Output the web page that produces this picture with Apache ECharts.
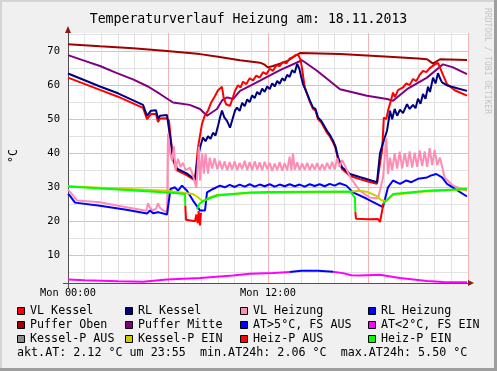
<!DOCTYPE html>
<html><head><meta charset="utf-8">
<script src="https://cdn.jsdelivr.net/npm/echarts@6/dist/echarts.min.js"></script>
<style>html,body{margin:0;padding:0;background:#f0f0f0}#c{width:497px;height:371px}</style>
</head><body><div id="c"></div>
<script>
const TITLE = 'Temperaturverlauf Heizung am: 18.11.2013';
const Y_UNIT = '°C';
const WATERMARK = 'RRDTOOL / TOBI OETIKER';
const xTickLabels = {0: 'Mon 00:00', 12: 'Mon 12:00'};
const yLabelValues = [10, 20, 30, 40, 50, 60, 70];
const yGridValues = [5, 10, 15, 20, 25, 30, 35, 40, 45, 50, 55, 60, 65, 70, 75];

// [hour of day, °C]
const pufferOben = [[0,72.0],[1.92,71.4],[3.9,70.8],[5.94,70.0],[7.92,69.1],[9,68.3],[10.32,67.3],[11.52,66.6],[11.8,66],[12,65.2],[12.3,65.6],[12.9,66.6],[13.2,67.2],[13.62,68.6],[13.92,69.4],[16.32,69.1],[19,68.4],[21.0,67.8],[21.54,67.6],[21.9,66.3],[22.32,67.6],[23.94,67.4]];
const pufferMitte = [[0,68.8],[0.96,67.2],[1.92,65.6],[2.9,63.6],[3.9,61.7],[4.8,59.6],[5.52,57.4],[6.3,54.9],[7.3,54.2],[7.92,53.0],[8.34,51.0],[8.94,53.0],[9.24,55.5],[9.54,56.4],[9.9,55.9],[10.32,58.3],[10.92,59.8],[11.52,61.3],[12.72,64.4],[14.04,67.3],[14.94,64.2],[16.32,58.8],[17.94,56.9],[19.14,55.9],[19.5,55.4],[20.34,58.8],[21.54,62.2],[22.5,66.1],[23.1,65.2],[23.94,63.2]];
const vlKessel = [[0,62.2],[1.92,58.6],[3.0,56.6],[4.5,53.3],[4.6,53],[4.74,50],[4.98,51.5],[5.28,51.5],[5.4,49.2],[5.52,50.2],[5.94,50.3],[6.06,49.5],[6.3,38],[6.54,35],[7.14,33.5],[7.62,32],[7.8,41.7],[8.04,48.6],[8.2,51],[8.4,52.5],[8.6,55],[8.82,56.8],[9.0,58.5],[9.24,59.5],[9.35,56],[9.5,54.3],[9.72,53.9],[9.9,56.5],[10.02,58.3],[10.2,60],[10.35,59.3],[10.5,61],[10.7,60.3],[10.9,62],[11.1,61.4],[11.3,62.8],[11.5,62.2],[11.7,63.8],[11.9,63.2],[12.1,64.8],[12.3,64.2],[12.5,65.8],[12.7,65.6],[12.9,66.8],[13.1,66.4],[13.3,67.8],[13.5,68.2],[13.65,68.8],[13.8,69],[13.95,67.5],[14.04,65],[14.2,59.5],[14.52,55],[14.7,53],[14.85,52.5],[15.0,50],[15.2,49],[15.54,46],[15.7,45],[15.9,43.2],[16.05,41.5],[16.2,38.3],[16.44,35.4],[16.6,34.7],[16.92,33.3],[17.5,32.4],[18.0,31.7],[18.54,31],[18.62,30.5],[18.75,38],[18.85,41],[18.95,50.5],[19.1,50],[19.2,52.5],[19.35,55],[19.5,57.8],[19.62,56.5],[19.8,58.5],[20.1,59.3],[20.3,60.5],[20.5,60],[20.7,61.8],[20.9,61.2],[21.1,63],[21.3,64.2],[21.5,63.8],[21.7,65],[22.02,66.1],[22.2,66.5],[22.32,66.1],[22.5,63],[22.74,60.3],[23.2,58.5],[23.94,56.9]];
const rlKessel = [[0,63.4],[1.92,59.6],[3.0,57.6],[4.5,54.2],[4.6,53.9],[4.74,51],[4.98,52.5],[5.28,52.6],[5.4,50.1],[5.52,51],[5.94,51.2],[6.06,51.5],[6.3,38.8],[6.54,35.5],[7.14,34],[7.62,32.3],[7.74,37],[7.92,41.7],[8.1,44.6],[8.25,43.5],[8.4,45],[8.55,44.2],[8.7,46],[8.85,45.2],[9.0,48],[9.12,50.5],[9.24,52.5],[9.38,50.5],[9.54,49.5],[9.72,47.5],[9.9,50.5],[10.02,52.5],[10.14,53.4],[10.3,52.4],[10.45,54.8],[10.6,53.8],[10.75,55.8],[10.9,55],[11.05,57],[11.2,56.2],[11.35,58],[11.5,57.2],[11.65,59],[11.8,58],[11.95,59.6],[12.1,58.8],[12.25,60.5],[12.4,59.6],[12.55,61.2],[12.7,60.4],[12.85,62],[13.0,61.3],[13.15,63],[13.3,62.4],[13.45,64.4],[13.6,63.6],[13.75,66.2],[13.88,64.8],[14.0,62.2],[14.1,60.3],[14.3,58],[14.52,55.4],[14.7,53.4],[14.85,53],[15.0,50.5],[15.2,49.5],[15.54,46.6],[15.7,45.5],[15.9,43.7],[16.05,42],[16.2,38.8],[16.44,35.9],[16.6,35.2],[16.92,33.9],[17.5,33],[18.0,32.3],[18.54,31.5],[18.62,31.2],[18.72,40],[18.9,43],[19.14,46.6],[19.25,50],[19.32,52.5],[19.45,50],[19.6,53],[19.75,51],[19.92,52.8],[20.1,51.8],[20.34,54.4],[20.5,53],[20.7,54.2],[20.85,53.2],[21.0,56],[21.15,54.5],[21.3,57.4],[21.45,56],[21.6,59.5],[21.72,58],[21.9,62.2],[22.05,60.5],[22.2,63.5],[22.32,62],[22.44,60.8],[22.8,59.8],[23.4,59],[23.94,58.3]];
const vlHeizung = [[0,29.3],[0.24,28],[0.54,26.1],[1.92,25.6],[3.0,24.6],[4.7,23.1],[4.8,25.3],[4.92,24],[5.1,23.2],[5.3,23.8],[5.4,25.3],[5.52,24],[5.7,23.2],[5.94,22.7],[6.0,45.7],[6.12,40],[6.25,37.8],[6.35,42],[6.45,34.9],[6.6,38.4],[6.75,36],[6.9,37.2],[7.05,35],[7.32,35.8],[7.5,33.4],[7.7,29.9],[7.85,42],[7.92,32],[8.05,40],[8.15,34],[8.25,39.8],[8.4,34],[8.5,38.7],[8.65,35.5],[8.8,38.5],[8.95,35.3],[9.1,37.8],[9.25,35.2],[9.4,37.6],[9.55,35],[9.7,37.4],[9.85,35.2],[10.0,37.6],[10.15,35],[10.3,37.2],[10.45,35.3],[10.6,37.8],[10.75,35.1],[10.9,37.4],[11.05,35],[11.2,37.6],[11.35,35.2],[11.5,37.3],[11.65,35],[11.8,37.5],[11.95,35.3],[12.1,37.2],[12.25,34.8],[12.4,37],[12.55,35],[12.7,37.4],[12.85,34.9],[13.0,37.1],[13.15,35],[13.3,39],[13.4,35],[13.5,40],[13.6,35.2],[13.75,37.3],[13.9,35],[14.05,37],[14.2,35.1],[14.35,37.2],[14.5,35],[14.65,36.9],[14.8,35.2],[14.95,37.1],[15.1,35],[15.25,36.8],[15.4,35.1],[15.55,37.2],[15.7,35.3],[15.85,37.5],[16.0,35.2],[16.15,38.5],[16.3,36],[16.45,38],[16.6,36.5],[16.95,32.8],[17.5,29],[18.1,27],[18.6,26.7],[18.9,32.8],[19.1,44.5],[19.2,33.9],[19.32,38.7],[19.45,35],[19.6,40],[19.75,35.5],[19.9,40.5],[20.05,35.5],[20.2,40],[20.35,36],[20.5,40.5],[20.65,35.8],[20.8,40.2],[20.95,36],[21.1,40.8],[21.25,36.2],[21.4,40.5],[21.55,36],[21.7,41.5],[21.85,36.5],[22.0,41],[22.15,36.5],[22.32,38.7],[22.6,32.8],[23.1,30.5],[23.94,29]];
const rlHeizung = [[0,28.1],[0.12,27.5],[0.24,27],[0.42,25.5],[1.92,24.6],[3.5,23.4],[4.74,22.3],[4.92,23.2],[5.1,22.4],[5.4,22.7],[5.94,22],[6.15,29.5],[6.42,30],[6.6,29],[6.84,30.5],[7.14,29],[7.5,26.1],[7.92,23.2],[8.22,23.2],[8.34,28.5],[8.7,29.5],[9.12,30.5],[9.4,30],[9.7,30.7],[10.0,30.1],[10.3,30.8],[10.6,30.2],[10.9,30.9],[11.2,30.2],[11.5,30.8],[11.8,30.3],[12.1,30.9],[12.4,30.2],[12.7,30.8],[13.0,30.3],[13.3,30.9],[13.6,30.3],[13.9,30.8],[14.2,30.2],[14.5,30.9],[14.8,30.4],[15.1,30.9],[15.4,30.3],[15.7,31],[16.0,30.5],[16.3,31.2],[16.7,30.5],[17.1,28.5],[17.9,26.7],[18.9,24.2],[19.2,30],[19.5,32],[19.92,31],[20.3,32],[20.6,31.5],[21.0,32.5],[21.54,32.9],[21.8,33.5],[22.1,33.9],[22.44,32.9],[22.74,31],[23.94,27.3]];
const atLow = [[0,2.9],[1,2.7],[3,2.4],[4.5,2.3],[5.94,2.9],[7.92,3.4],[9.9,4.1],[10.92,4.6],[12.3,4.8],[13.3,5.1],[13.31,null],[15.89,null],[15.9,5.2],[16.5,4.8],[17,4.2],[17.5,4.1],[18.7,4.3],[19.92,3.4],[21.54,2.5],[22.5,2.2],[23.94,2.1]];
const atHigh = [[13.3,5.1],[14,5.5],[15,5.5],[15.9,5.2]];
const kesselPEin = [[0,30.3],[5.94,29],[7.02,28.3],[7.5,28],[7.74,27.3],[8.1,25.8],[8.5,27],[9,27.8],[10.92,28.3],[16.92,28.7],[17.5,29],[18,28.6],[18.5,27.5],[18.8,26.2],[19.1,26],[19.5,27.8],[21.54,28.8],[23.94,29.4]];
const heizPEin = [[0,30.2],[5.94,28.5],[7.02,28.0],[7.04,24.5],[7.05,null],[7.73,null],[7.74,23.5],[7.86,25],[8.1,26],[8.94,27.6],[10.92,28.5],[12,28.6],[16.92,28.8],[17.22,27],[17.24,22.7],[17.25,null],[18.89,null],[18.9,25.2],[19.5,28],[21.54,29],[23.94,29.5]];
const heizPAus = [[7.04,24.5],[7.08,20.5],[7.62,20],[7.7,22],[7.78,19.5],[7.84,23],[7.92,18.8],[7.98,22.5],[7.99,null],[17.23,null],[17.24,22.7],[17.28,20.8],[18.0,20.6],[18.6,20.7],[18.72,19.8],[18.82,19.3],[18.88,24],[18.9,25.2]];

const legendNames = ['VL Kessel','RL Kessel','VL Heizung','RL Heizung','Puffer Oben','Puffer Mitte','AT>5°C, FS AUS','AT<2°C, FS EIN','Kessel-P AUS','Kessel-P EIN','Heiz-P AUS','Heiz-P EIN'];
const legendColors = ['#ff0000','#000080','#ff8cb4','#0000ff','#a00000','#800080','#0000ff','#ff00ff','#8c8c8c','#cccc00','#ff0000','#00ff00'];
const summaryText = 'akt.AT: 2.12 °C um 23:55  min.AT24h: 2.06 °C  max.AT24h: 5.50 °C';

const MONO = '"DejaVu Sans Mono", monospace';
const chart = echarts.init(document.getElementById('c'), null, {renderer: 'canvas'});

function line(name, data, color) {
  return {name, type: 'line', data, showSymbol: false, symbol: 'none', silent: true,
    connectNulls: false, lineStyle: {color, width: 2}, itemStyle: {color}};
}

const graphics = [
  {type: 'rect', shape: {x: 0, y: 0, width: 497, height: 2}, style: {fill: '#d4d4d4'}, silent: true},
  {type: 'rect', shape: {x: 0, y: 0, width: 2, height: 371}, style: {fill: '#d4d4d4'}, silent: true},
  {type: 'rect', shape: {x: 494, y: 0, width: 3, height: 371}, style: {fill: '#9e9e9e'}, silent: true},
  {type: 'rect', shape: {x: 0, y: 368, width: 497, height: 3}, style: {fill: '#9e9e9e'}, silent: true},
  {type: 'line', shape: {x1: 63, y1: 283.5, x2: 68, y2: 283.5}, style: {stroke: '#505050', lineWidth: 1}, silent: true},
  {type: 'line', shape: {x1: 68.5, y1: 283, x2: 68.5, y2: 288}, style: {stroke: '#505050', lineWidth: 1}, silent: true},
  {type: 'polygon', shape: {points: [[65, 33], [71, 33], [68, 26]]}, style: {fill: '#8b1a1a'}, silent: true, z: 10},
  {type: 'polygon', shape: {points: [[468, 280], [468, 286], [474, 283]]}, style: {fill: '#8b1a1a'}, silent: true, z: 10},
  {type: 'text', x: 14, y: 156, rotation: Math.PI / 2, style: {text: Y_UNIT, x: 0, y: 0, align: 'center', verticalAlign: 'middle', font: '11.7px ' + MONO, fill: '#000'}, silent: true},
  {type: 'text', x: 487, y: 61, rotation: -Math.PI / 2, style: {text: WATERMARK, x: 0, y: 0, align: 'center', verticalAlign: 'middle', font: '8px ' + MONO, fill: '#c4c4c4'}, silent: true},
  {type: 'text', x: 17, y: 353, style: {text: summaryText, x: 0, y: 0, align: 'left', verticalAlign: 'middle', font: '11.7px ' + MONO, fill: '#000'}, silent: true}
];
const colSq = [17, 125, 240, 368];
const rowY = [311, 325, 339];
legendNames.forEach((n, i) => {
  const cx = colSq[i % 4], cy = rowY[Math.floor(i / 4)];
  graphics.push({type: 'rect', shape: {x: cx + 0.5, y: cy - 3.5, width: 7, height: 7}, style: {fill: legendColors[i], stroke: '#000', lineWidth: 1}, silent: true});
  graphics.push({type: 'text', x: cx + 13, y: cy, style: {text: n, x: 0, y: 0, align: 'left', verticalAlign: 'middle', font: '11.7px ' + MONO, fill: '#000'}, silent: true});
});

const MINOR = '#e2e2e2', MAJOR = '#f2b4b4';
chart.setOption({
  animation: false,
  backgroundColor: '#f0f0f0',
  title: {text: TITLE, left: 'center', top: 8, textStyle: {fontFamily: MONO, fontSize: 13.2, fontWeight: 'normal', color: '#000'}},
  grid: {left: 68, top: 33, width: 400, height: 250, show: true, backgroundColor: '#ffffff', borderWidth: 0},
  xAxis: {type: 'value', min: 0, max: 24, interval: 1,
    axisLine: {show: true, onZero: false, lineStyle: {color: '#505050', width: 1}},
    axisTick: {show: false},
    axisLabel: {formatter: v => xTickLabels[v] || '', fontFamily: MONO, fontSize: 10.3, color: '#000', margin: 5},
    splitLine: {show: true, lineStyle: {color: [MAJOR, MINOR, MINOR, MINOR, MINOR, MINOR], width: 1}}},
  yAxis: {type: 'value', min: 1.9, max: 75.3,
    axisLine: {show: true, onZero: false, lineStyle: {color: '#505050', width: 1}},
    axisTick: {show: false, customValues: yGridValues},
    axisLabel: {customValues: yLabelValues, fontFamily: MONO, fontSize: 10.5, color: '#000', margin: 8},
    splitLine: {show: true, lineStyle: {color: [MINOR, MAJOR], width: 1}}},
  graphic: graphics,
  series: [
    line('Puffer Oben', pufferOben, legendColors[4]),
    line('Puffer Mitte', pufferMitte, legendColors[5]),
    line('VL Kessel', vlKessel, legendColors[0]),
    line('RL Kessel', rlKessel, legendColors[1]),
    line('VL Heizung', vlHeizung, legendColors[2]),
    line('RL Heizung', rlHeizung, legendColors[3]),
    line('AT<2°C, FS EIN', atLow, legendColors[7]),
    line('AT>5°C, FS AUS', atHigh, legendColors[6]),
    line('Kessel-P EIN', kesselPEin, legendColors[9]),
    line('Heiz-P EIN', heizPEin, legendColors[11]),
    line('Heiz-P AUS', heizPAus, legendColors[10])
  ]
});
</script></body></html>
